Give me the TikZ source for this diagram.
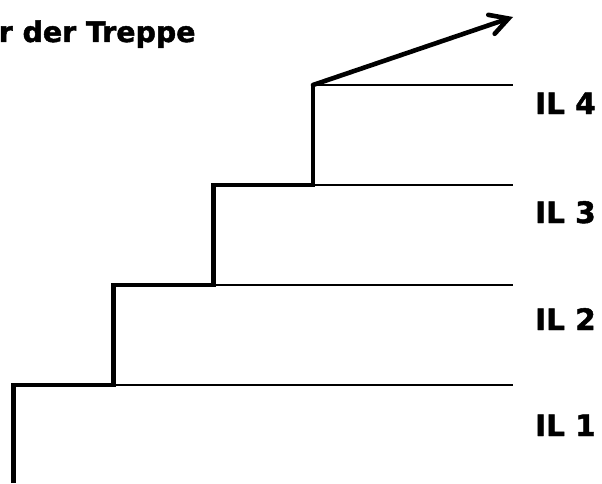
\documentclass[tikz,border=0pt]{standalone}
\usepackage{fontspec}
\setmainfont{DejaVu Sans}
\newfontfamily\heavyfont{DejaVu Sans Bold}[FakeBold=1.6]
\usetikzlibrary{arrows.meta}
\begin{document}
\begin{tikzpicture}[x=1pt,y=1pt,
  stair/.style={line width=4.6pt, line join=miter},
  level/.style={line width=2pt},
  lbl/.style={inner sep=0pt, font=\heavyfont\fontsize{29.5}{34}\selectfont},
  headline/.style={inner sep=0pt, font=\heavyfont\fontsize{28.4}{34}\selectfont},
  rise/.style={line width=4.6pt, line cap=round,
    -{Straight Barb[length=18pt,width=20pt,line cap=round]}}]
\useasboundingbox (0,0) rectangle (602,483);

% corners of the steps
\coordinate (s0) at (13.5,0);
\coordinate (s1) at (13.5,98);
\coordinate (s2) at (113.5,98);
\coordinate (s3) at (113.5,198);
\coordinate (s4) at (213.5,198);
\coordinate (s5) at (213.5,298);
\coordinate (s6) at (313,298);
\coordinate (s7) at (313,398);
\coordinate (tip) at (513,466);

% right ends of the level lines
\coordinate (e1) at (513,98);
\coordinate (e2) at (513,198);
\coordinate (e3) at (513,298);
\coordinate (e4) at (513,398);

% level lines
\draw[level] (s2) -- (e1);
\draw[level] (s4) -- (e2);
\draw[level] (s6) -- (e3);
\draw[level] (s7) -- (e4);

% the staircase
\draw[stair] (s0) -- (s1) -- (s2) -- (s3) -- (s4) -- (s5) -- (s6) -- (s7);
\draw[rise] (s7) -- (tip);

% labels
\node[headline, anchor=base west] (title) at (-1.5,441) {r der Treppe};
\node[lbl, anchor=base west] (il4) at (535,369) {IL 4};
\node[lbl, anchor=base west] (il3) at (535,260) {IL 3};
\node[lbl, anchor=base west] (il2) at (535,153) {IL 2};
\node[lbl, anchor=base west] (il1) at (535,47) {IL 1};
\end{tikzpicture}
\end{document}
